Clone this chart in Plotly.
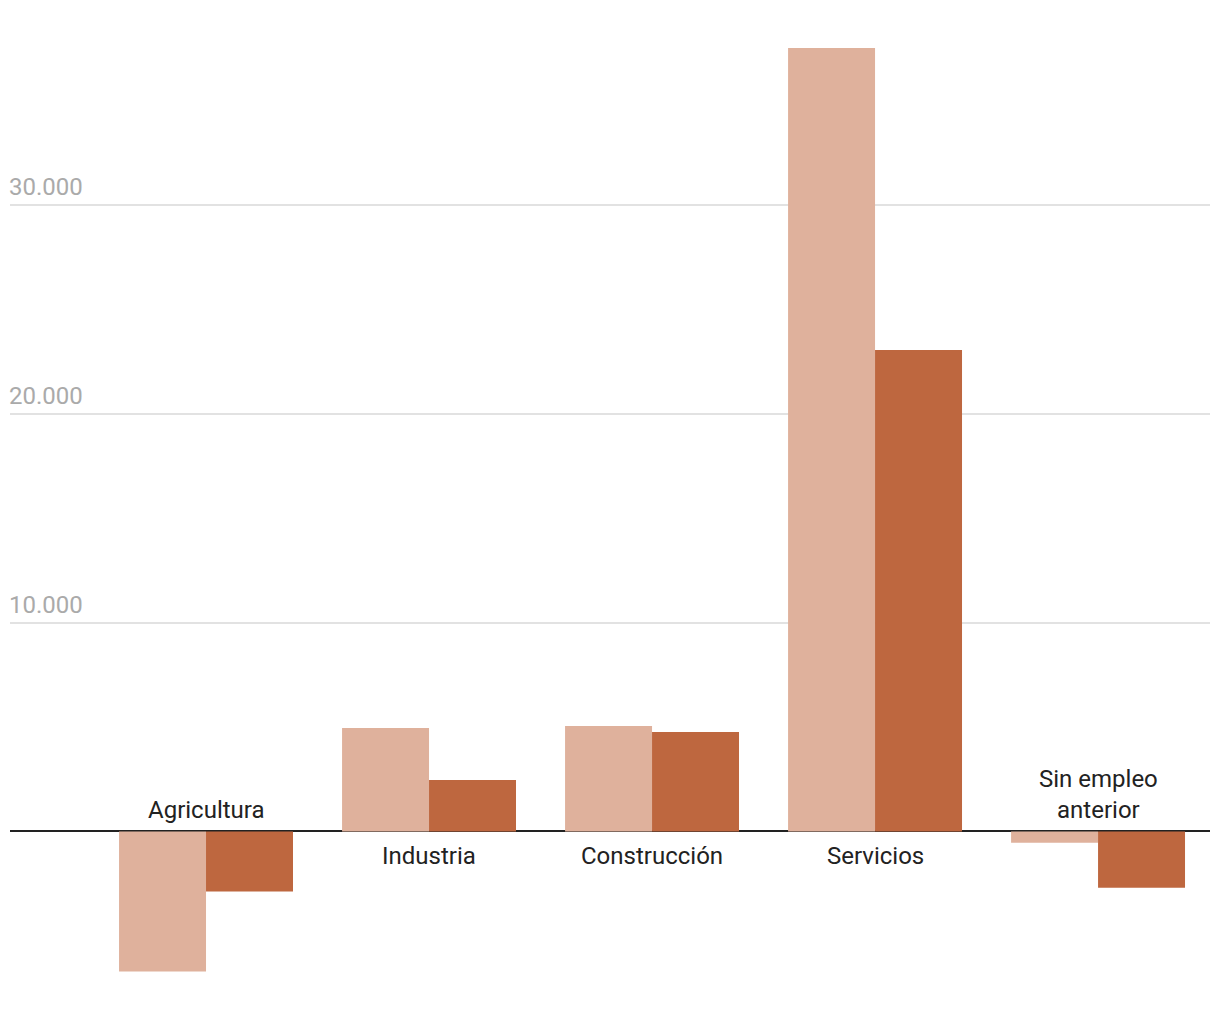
import plotly.graph_objects as go

categories = ["Agricultura", "Industria", "Construcción", "Servicios", "Sin empleo<br>anterior"]
serie_a = [-6710, 4960, 5050, 37520, -540]
serie_b = [-2880, 2470, 4760, 23060, -2690]
tick_vals = [10000, 20000, 30000]
tick_text = ["10.000", "20.000", "30.000"]

color_a = "#dfb19c"
color_b = "#be673f"

x_pos = list(range(len(categories)))

fig = go.Figure()
fig.add_trace(go.Bar(x=x_pos, y=serie_a, marker=dict(color=color_a, line=dict(width=0)),
                     name="A", hoverinfo="y"))
fig.add_trace(go.Bar(x=x_pos, y=serie_b, marker=dict(color=color_b, line=dict(width=0)),
                     name="B", hoverinfo="y"))

for i, cat in enumerate(categories):
    neg = min(serie_a[i], serie_b[i]) < 0
    fig.add_annotation(
        x=i, y=0, xref="x", yref="y", text=cat, showarrow=False,
        yanchor="bottom" if neg else "top",
        yshift=5 if neg else -9,
        font=dict(family="Roboto", size=24, color="#222222"),
        align="center",
    )

for v, t in zip(tick_vals, tick_text):
    fig.add_annotation(
        x=0, y=v, xref="paper", yref="y", text=t, showarrow=False,
        xanchor="left", yanchor="bottom", yshift=2, xshift=-3,
        font=dict(family="Roboto", size=24, color="#aaaaaa"),
    )

fig.update_layout(
    width=1220, height=1020,
    margin=dict(l=10, r=10, t=10, b=10),
    paper_bgcolor="white", plot_bgcolor="white",
    barmode="group", bargap=0.22, bargroupgap=0,
    showlegend=False,
    font=dict(family="Roboto"),
    xaxis=dict(range=[-0.879, 4.502], showticklabels=False, showgrid=False,
               zeroline=False, showline=False, ticks=""),
    yaxis=dict(range=[-8550, 39340], tickvals=tick_vals, showticklabels=False,
               showgrid=True, gridcolor="#e2e2e2", gridwidth=2,
               zeroline=True, zerolinecolor="#222222", zerolinewidth=2,
               showline=False, ticks=""),
)

fig.write_html("out.html")
